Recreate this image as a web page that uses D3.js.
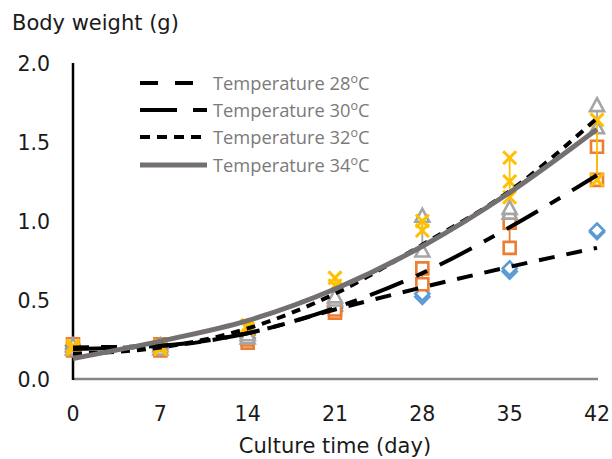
<!DOCTYPE html>
<html><head><meta charset="utf-8">
<script src="https://cdn.jsdelivr.net/npm/d3@7"></script>
<style>body{margin:0;background:#fff}svg{display:block}</style></head>
<body><svg id="c" width="612" height="459"></svg>
<script>
// ---- data ----
const days = [0, 7, 14, 21, 28, 35, 42];
const xTicks = [0, 7, 14, 21, 28, 35, 42];
const yTicks = [0, 0.5, 1.0, 1.5, 2.0];
const legendNames = ["Temperature 28", "Temperature 30", "Temperature 32", "Temperature 34"];
// trend (fitted) curves
const trend28 = [0.20, 0.21, 0.29, 0.44, 0.58, 0.71, 0.83];
const trend30 = [0.19, 0.21, 0.29, 0.45, 0.67, 0.96, 1.29];
const trend32 = [0.16, 0.20, 0.32, 0.54, 0.85, 1.19, 1.65];
const trend34 = [0.13, 0.24, 0.37, 0.57, 0.84, 1.18, 1.58];
// observed replicate markers per day
const obs28 = [[0.19, 0.21], [0.19, 0.21], [0.26, 0.28], [0.43, 0.45], [0.52, 0.54], [0.68, 0.70], [0.93, 0.94]];
const obs30 = [[0.18, 0.22], [0.18, 0.22], [0.23, 0.25], [0.42, 0.44], [0.60, 0.70], [0.83, 0.99], [1.26, 1.47]];
const obs32 = [[0.19, 0.21], [0.19, 0.21], [0.26, 0.28], [0.50, 0.52], [0.81, 1.03], [1.05, 1.08], [1.59, 1.73]];
const obs34 = [[0.19, 0.21], [0.19, 0.21], [0.32, 0.34], [0.59, 0.64], [0.94, 1.00], [1.15, 1.25, 1.40], [1.26, 1.64]];

const svg = d3.select("#c");
const x = d3.scaleLinear().domain([0, 42]).range([73, 597]);
const y = d3.scaleLinear().domain([0, 2]).range([379, 63]);
const FONT = "'DejaVu Sans', Verdana, sans-serif";

// axes
svg.append("line").attr("x1", x(0)).attr("x2", x(42) + 1).attr("y1", y(0)).attr("y2", y(0))
  .attr("stroke", "#868686").attr("stroke-width", 2.5);
svg.append("line").attr("x1", x(0)).attr("x2", x(0)).attr("y1", y(2)).attr("y2", y(0) + 1)
  .attr("stroke", "#000").attr("stroke-width", 2.5);

svg.selectAll("text.xt").data(xTicks).enter().append("text").attr("class", "xt")
  .attr("x", d => x(d)).attr("y", 421).attr("text-anchor", "middle")
  .attr("font-family", FONT).attr("font-size", 20.5).attr("fill", "#1a1a1a").text(d => d);
svg.selectAll("text.yt").data(yTicks).enter().append("text").attr("class", "yt")
  .attr("x", 50).attr("y", d => y(d) + 7.5).attr("text-anchor", "end")
  .attr("font-family", FONT).attr("font-size", 20.5).attr("fill", "#1a1a1a").text(d => d.toFixed(1));
svg.append("text").attr("x", 12).attr("y", 30).attr("font-family", FONT).attr("font-size", 21)
  .attr("fill", "#1a1a1a").text("Body weight (g)");
svg.append("text").attr("x", x(21)).attr("y", 453).attr("text-anchor", "middle").attr("font-family", FONT)
  .attr("font-size", 21).attr("fill", "#1a1a1a").text("Culture time (day)");

// markers
const markerSeries = [
  {obs: obs28, color: "#5B9BD5", shape: "diamond"},
  {obs: obs30, color: "#ED7D31", shape: "square"},
  {obs: obs32, color: "#A5A5A5", shape: "triangle"},
  {obs: obs34, color: "#FFC000", shape: "x"}
];
function shapePath(shape) {
  if (shape === "diamond") return "M0,-7L7,0L0,7L-7,0Z";
  if (shape === "square") return "M-6,-6H6V6H-6Z";
  if (shape === "triangle") return "M0,-7.5L7,5.5H-7Z";
  return "M-6.5,-6.5L6.5,6.5M-6.5,6.5L6.5,-6.5";
}
markerSeries.forEach(s => {
  const g = svg.append("g");
  s.obs.forEach((vals, i) => {
    g.append("line").attr("x1", x(days[i])).attr("x2", x(days[i]))
      .attr("y1", y(d3.min(vals))).attr("y2", y(d3.max(vals)))
      .attr("stroke", s.color).attr("stroke-width", 1.8);
    vals.forEach(v => {
      g.append("path").attr("d", shapePath(s.shape))
        .attr("transform", `translate(${x(days[i])},${y(v)})`)
        .attr("fill", s.shape === "x" ? "none" : "#fff")
        .attr("stroke", s.color).attr("stroke-width", s.shape === "x" ? 3 : 2.6);
    });
  });
});

// trend lines
const trends = [
  {vals: trend28, color: "#000", w: 4, dash: "16,12", legDash: "18,17"},
  {vals: trend30, color: "#000", w: 4, dash: "36,14,12,14", legDash: "37,16,14,16"},
  {vals: trend32, color: "#000", w: 4, dash: "9,7", legDash: "10,7"},
  {vals: trend34, color: "#757070", w: 5, dash: null, legDash: null}
];
const line = d3.line().x((d, i) => x(days[i])).y(d => y(d)).curve(d3.curveMonotoneX);
trends.forEach(t => {
  svg.append("path").attr("d", line(t.vals)).attr("fill", "none")
    .attr("stroke", t.color).attr("stroke-width", t.w)
    .attr("stroke-dasharray", t.dash);
});

// legend
const legY = [83, 110, 137, 165];
trends.forEach((t, i) => {
  svg.append("line").attr("x1", 140).attr("x2", 207).attr("y1", legY[i]).attr("y2", legY[i])
    .attr("stroke", t.color).attr("stroke-width", t.w).attr("stroke-dasharray", t.legDash);
  const tx = svg.append("text").attr("x", 213).attr("y", legY[i] + 6.5)
    .attr("font-family", "'Open Sans', sans-serif").attr("font-size", 18.3).attr("fill", "#7a7a7a");
  tx.append("tspan").text(legendNames[i]);
  tx.append("tspan").attr("dy", -6.5).attr("font-size", 12.5).text("o");
  tx.append("tspan").attr("dy", 6.5).text("C");
});
</script></body></html>
